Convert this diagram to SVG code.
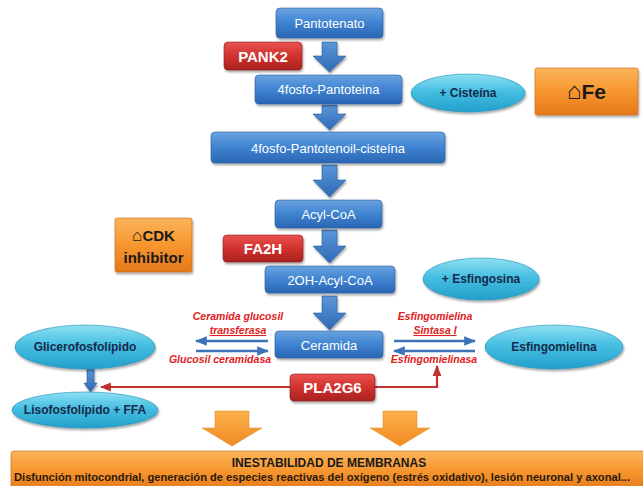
<svg xmlns="http://www.w3.org/2000/svg" width="643" height="486" viewBox="0 0 643 486">
<defs>
<linearGradient id="gBlue" x1="0" y1="0" x2="0" y2="1"><stop offset="0" stop-color="#6aa3e0"/><stop offset="0.5" stop-color="#3f83d1"/><stop offset="1" stop-color="#2a66b4"/></linearGradient>
<linearGradient id="gRed" x1="0" y1="0" x2="0" y2="1"><stop offset="0" stop-color="#e8534f"/><stop offset="0.5" stop-color="#d1322e"/><stop offset="1" stop-color="#a82220"/></linearGradient>
<linearGradient id="gOrange" x1="0" y1="0" x2="0" y2="1"><stop offset="0" stop-color="#fbb55a"/><stop offset="0.5" stop-color="#f7962f"/><stop offset="1" stop-color="#e5781a"/></linearGradient>
<linearGradient id="gCyan" x1="0" y1="0" x2="0" y2="1"><stop offset="0" stop-color="#8fe0f2"/><stop offset="0.45" stop-color="#46bfe2"/><stop offset="1" stop-color="#239fcb"/></linearGradient>
<linearGradient id="gArrB" x1="0" y1="0" x2="0" y2="1"><stop offset="0" stop-color="#5b97d9"/><stop offset="1" stop-color="#2d69b5"/></linearGradient>
<linearGradient id="gArrO" x1="0" y1="0" x2="0" y2="1"><stop offset="0" stop-color="#fbb04d"/><stop offset="1" stop-color="#f08a1f"/></linearGradient>
<filter id="sh" x="-10%" y="-20%" width="130%" height="160%"><feDropShadow dx="1" dy="2" stdDeviation="1.2" flood-color="#000" flood-opacity="0.35"/></filter>
<marker id="mBlue" viewBox="0 0 10 10" refX="9" refY="5" markerWidth="5" markerHeight="5" orient="auto-start-reverse"><path d="M0,1 L10,5 L0,9 Z" fill="#3d72b8"/></marker>
<marker id="mRed" viewBox="0 0 10 10" refX="9" refY="5" markerWidth="5" markerHeight="5" orient="auto-start-reverse"><path d="M0,1 L10,5 L0,9 Z" fill="#c0312f"/></marker>
<style>
.blue{fill:url(#gBlue);stroke:#2a5d9f;stroke-width:0.6;filter:url(#sh)}
.red{fill:url(#gRed);stroke:#8e1c1a;stroke-width:0.6;filter:url(#sh)}
.orange{fill:url(#gOrange);stroke:#c9671a;stroke-width:0.6;filter:url(#sh)}
.cyan{fill:url(#gCyan);stroke:#1e8fb8;stroke-width:0.6;filter:url(#sh)}
.bt{font-family:"Liberation Sans",Arial,sans-serif;font-size:13px;fill:#fff;text-anchor:middle}
.rt{font-family:"Liberation Sans",Arial,sans-serif;font-size:15px;font-weight:bold;fill:#fff;text-anchor:middle}
.ot{font-family:"Liberation Sans",Arial,sans-serif;font-weight:bold;fill:#1a1a1a;text-anchor:middle}
.hs{font-family:"Liberation Sans",sans-serif;font-weight:normal}
.et{font-family:"Liberation Sans",Arial,sans-serif;font-size:12px;font-weight:bold;fill:#16294a;text-anchor:middle}
.it{font-family:"Liberation Sans",Arial,sans-serif;font-size:10.5px;font-weight:bold;font-style:italic;fill:#e0201c;text-anchor:middle}
.ab{fill:url(#gArrB);stroke:#2a5d9f;stroke-width:0.6;filter:url(#sh)}
.ao{fill:url(#gArrO);stroke:#e0801a;stroke-width:0.5}
.lb{stroke:#3d72b8;stroke-width:2.4;fill:none;marker-end:url(#mBlue)}
.lr{stroke:#c0312f;stroke-width:2.2;fill:none;marker-end:url(#mRed)}
</style>
</defs>
<rect width="643" height="486" fill="#fff"/>

<g id="connectors">
<path class="ab" d="M322,42 L337,42 L337,56 L346,56 L329.5,72 L313,56 L322,56 Z"/>
<path class="ab" d="M322,105 L337,105 L337,114 L346,114 L329.5,130 L313,114 L322,114 Z"/>
<path class="ab" d="M322,165 L337,165 L337,180 L346,180 L329.5,197 L313,180 L322,180 Z"/>
<path class="ab" d="M322,230 L337,230 L337,246 L346,246 L329.5,263 L313,246 L322,246 Z"/>
<path class="ab" d="M322,296 L337,296 L337,313 L346,313 L329.5,330 L313,313 L322,313 Z"/>
<path class="ab" d="M87,369 L94,369 L94,383 L97,383 L90.5,392 L84,383 L87,383 Z"/>
<path class="ao" d="M215,411 L249,411 L249,428 L262,428 L232,446 L202,428 L215,428 Z"/>
<path class="ao" d="M383,411 L417,411 L417,428 L430,428 L400,446 L370,428 L383,428 Z"/>
<line class="lb" x1="268" y1="341" x2="196" y2="341"/>
<line class="lb" x1="196" y1="351" x2="268" y2="351"/>
<line class="lb" x1="394" y1="341" x2="475" y2="341"/>
<line class="lb" x1="475" y1="351" x2="394" y2="351"/>
<line class="lr" x1="290" y1="387" x2="101" y2="387"/>
<polyline class="lr" points="375,387 437,387 437,366"/>
</g>

<g id="pantotenato"><rect class="blue" x="276" y="8" width="107" height="30" rx="4"/><text class="bt" x="329.5" y="28">Pantotenato</text></g>
<g id="pank2"><rect class="red" x="224" y="42" width="78" height="28" rx="4"/><text class="rt" x="263" y="61.5">PANK2</text></g>
<g id="fosfopantoteina"><rect class="blue" x="255" y="75" width="147" height="29" rx="4"/><text class="bt" x="328.5" y="94">4fosfo-Pantoteina</text></g>
<g id="cisteina"><ellipse class="cyan" cx="468" cy="93" rx="57" ry="19"/><text class="et" x="468" y="97">+ Cisteína</text></g>
<g id="fe"><rect class="orange" x="535" y="68" width="103" height="47" rx="2"/><text class="ot" x="586.5" y="99" font-size="21"><tspan class="hs" font-size="24">⌂</tspan>Fe</text></g>
<g id="pantotenoil"><rect class="blue" x="211" y="132" width="234" height="31" rx="4"/><text class="bt" x="328" y="152.5" font-size="13.5">4fosfo-Pantotenoil-cisteína</text></g>
<g id="acylcoa"><rect class="blue" x="275" y="200" width="107" height="28" rx="4"/><text class="bt" x="328.5" y="219">Acyl-CoA</text></g>
<g id="cdk"><rect class="orange" x="115" y="218" width="77" height="54" rx="2"/><text class="ot" x="153.5" y="241" font-size="15"><tspan class="hs" font-size="17">⌂</tspan>CDK</text><text class="ot" x="153.5" y="263" font-size="15">inhibitor</text></g>
<g id="fa2h"><rect class="red" x="223" y="235" width="80" height="27" rx="4"/><text class="rt" x="263" y="254">FA2H</text></g>
<g id="ohacylcoa"><rect class="blue" x="265" y="266" width="130" height="27" rx="4"/><text class="bt" x="330" y="284.5">2OH-Acyl-CoA</text></g>
<g id="esfingosina"><ellipse class="cyan" cx="481" cy="279" rx="58" ry="21"/><text class="et" x="481" y="283">+ Esfingosina</text></g>
<g id="ceramida"><rect class="blue" x="275" y="331" width="108" height="27" rx="4"/><text class="bt" x="329" y="349.5">Ceramida</text></g>
<g id="lbl-left"><text class="it" x="238" y="320">Ceramida glucosil</text><text class="it" x="238" y="334" text-decoration="underline">transferasa</text><text class="it" x="220" y="363">Glucosil ceramidasa</text></g>
<g id="lbl-right"><text class="it" x="435" y="320">Esfingomielina</text><text class="it" x="435" y="334" text-decoration="underline">Sintasa I</text><text class="it" x="434" y="363">Esfingomielinasa</text></g>
<g id="glicerofosfolipido"><ellipse class="cyan" cx="85" cy="347" rx="70" ry="22"/><text class="et" x="85" y="351">Glicerofosfolípido</text></g>
<g id="esfingomielina"><ellipse class="cyan" cx="554" cy="347" rx="69" ry="22"/><text class="et" x="554" y="351">Esfingomielina</text></g>
<g id="pla2g6"><rect class="red" x="290" y="374" width="85" height="27" rx="4"/><text class="rt" x="332.5" y="393">PLA2G6</text></g>
<g id="lisofosfolipido"><ellipse class="cyan" cx="85" cy="410" rx="73" ry="18"/><text class="et" x="85" y="414">Lisofosfolípido + FFA</text></g>
<g id="inestabilidad"><rect class="orange" x="11" y="451" width="640" height="40" rx="3"/>
<text x="329" y="467" font-family="Liberation Sans,Arial,sans-serif" font-size="12" font-weight="bold" fill="#1a1a1a" text-anchor="middle">INESTABILIDAD DE MEMBRANAS</text>
<text x="14" y="481" font-family="Liberation Sans,Arial,sans-serif" font-size="10" font-weight="bold" fill="#2a1a0a" textLength="616" lengthAdjust="spacingAndGlyphs">Disfunción mitocondrial, generación de especies reactivas del oxígeno (estrés oxidativo), lesión neuronal y axonal...</text></g>
</svg>
